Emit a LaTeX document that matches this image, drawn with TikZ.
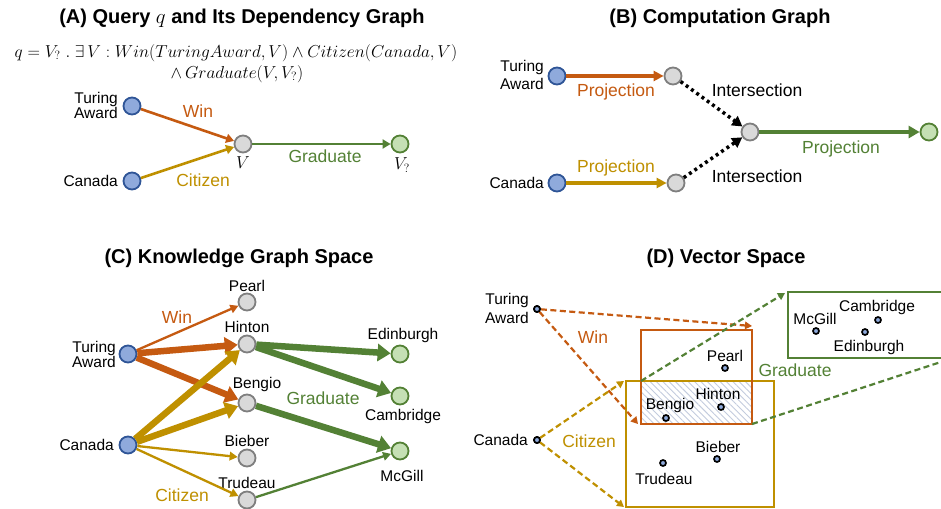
\documentclass[tikz,border=0pt]{standalone}
\usepackage{fontspec}
\setmainfont{Liberation Sans}
\usetikzlibrary{arrows.meta,patterns.meta}
\definecolor{corange}{HTML}{C55A11}
\definecolor{cgold}{HTML}{BF9000}
\definecolor{cgreen}{HTML}{538135}
\definecolor{cbluef}{HTML}{8FAADC}
\definecolor{cblued}{HTML}{2F5597}
\definecolor{cgrayf}{HTML}{D9D9D9}
\definecolor{cgrayd}{HTML}{7F7F7F}
\definecolor{cgreenf}{HTML}{C5E0B4}
\definecolor{chatch}{HTML}{C3CCDE}
\tikzset{
  ent/.style={circle,draw=cblued,fill=cbluef,line width=1.8pt,minimum size=17pt,inner sep=0pt},
  var/.style={circle,draw=cgrayd,fill=cgrayf,line width=1.8pt,minimum size=17pt,inner sep=0pt},
  ansn/.style={circle,draw=cgreen,fill=cgreenf,line width=1.8pt,minimum size=17pt,inner sep=0pt},
  vpt/.style={circle,draw=black,fill=cbluef,line width=1.7pt,minimum size=6pt,inner sep=0pt},
  lbl/.style={inner sep=0pt,font=\fontsize{15.5}{15}\selectfont},
  elbl/.style={inner sep=0pt,font=\fontsize{17.5}{19}\selectfont},
  ttl/.style={inner sep=0pt,font=\fontsize{20}{22}\selectfont\bfseries},
  thinA/.style={line width=2.6pt,-{Triangle[length=8pt,width=9pt]}},
  medB/.style={line width=3.2pt,-{Triangle[length=10pt,width=10pt]}},
  dotB/.style={line width=3.5pt,dash pattern=on 3pt off 3.5pt,-{Triangle[length=10pt,width=11pt]}},
  thickC/.style={line width=6.5pt,-{Triangle[length=13pt,width=17pt]}},
  thinC/.style={line width=2.3pt,-{Triangle[length=8pt,width=8.5pt]}},
  dashD/.style={line width=2.2pt,dash pattern=on 6pt off 3.5pt,-{Triangle[length=7pt,width=7.5pt]}},
  boxD/.style={line width=2.3pt},
}
\begin{document}
\begin{tikzpicture}[x=1pt,y=-1pt]
\clip (0,0) rectangle (941,508);
\fill[white] (0,0) rectangle (941,508);

% ---------------- Panel A ----------------
\node[ttl] (a-title) at (242,18) {(A) Query $q$ and Its Dependency Graph};
\node[inner sep=0pt,font=\fontsize{17}{18}\selectfont] (a-f1) at (236,53) {$q = V_?\ .\ \exists\, V : Win(TuringAward, V) \wedge Citizen(Canada, V)$};
\node[inner sep=0pt,font=\fontsize{17}{18}\selectfont] (a-f2) at (237,74) {$\wedge\, Graduate(V, V_?)$};
\node[ent] (a-ta) at (132,106) {};
\node[ent] (a-ca) at (132,181) {};
\node[var] (a-v) at (243,144) {};
\node[ansn] (a-ans) at (400,144) {};
\node[lbl,anchor=east,align=right] (a-tal) at (118,105) {Turing\\Award};
\node[lbl,anchor=east] (a-cal) at (118,181) {Canada};
\node[inner sep=0pt,font=\fontsize{18}{18}\selectfont] (a-vl) at (243,163) {$V$};
\node[inner sep=0pt,font=\fontsize{18}{18}\selectfont] (a-ansl) at (402,165) {$V_?$};
\draw[thinA,corange] (a-ta) -- (a-v);
\draw[thinA,cgold] (a-ca) -- (a-v);
\draw[thinA,cgreen] (a-v) -- (a-ans);
\node[elbl,text=corange] (a-win) at (198,111) {Win};
\node[elbl,text=cgold] (a-cit) at (203,180) {Citizen};
\node[elbl,text=cgreen] (a-grad) at (325,156) {Graduate};

% ---------------- Panel B ----------------
\node[ttl] (b-title) at (720,18) {(B) Computation Graph};
\node[ent] (b-ta) at (557,76) {};
\node[ent] (b-ca) at (557,183) {};
\node[var] (b-p1) at (673,76) {};
\node[var] (b-p2) at (676,183) {};
\node[var] (b-i) at (750,132) {};
\node[ansn] (b-ans) at (929,132) {};
\node[lbl,anchor=east,align=right,font=\fontsize{15.5}{18}\selectfont] (b-tal) at (544,75) {Turing\\Award};
\node[lbl,anchor=east] (b-cal) at (544,183) {Canada};
\draw[medB,corange] (b-ta) -- (b-p1);
\draw[medB,cgold] (b-ca) -- (b-p2);
\draw[dotB,black] (b-p1) -- (b-i);
\draw[dotB,black] (b-p2) -- (b-i);
\draw[line width=3.6pt,-{Triangle[length=11pt,width=12pt]},cgreen] (b-i) -- (b-ans);
\node[elbl,text=corange] (b-pr1) at (616,92) {Projection};
\node[elbl,text=cgold] (b-pr2) at (616,168) {Projection};
\node[elbl,text=cgreen] (b-pr3) at (841,149) {Projection};
\node[elbl] (b-in1) at (757,90) {Intersection};
\node[elbl] (b-in2) at (757,176) {Intersection};

% ---------------- Panel C ----------------
\node[ttl] (c-title) at (239,258) {(C) Knowledge Graph Space};
\node[ent] (c-ta) at (128,354) {};
\node[ent] (c-ca) at (128,445) {};
\node[var] (c-pearl) at (247,302) {};
\node[var] (c-hinton) at (247,344) {};
\node[var] (c-bengio) at (247,403) {};
\node[var] (c-bieber) at (247,458) {};
\node[var] (c-trudeau) at (247,500) {};
\node[ansn] (c-edin) at (400,354) {};
\node[ansn] (c-camb) at (400,396) {};
\node[ansn] (c-mcgill) at (400,451) {};
\node[lbl,anchor=east,align=right] (c-tal) at (116,354) {Turing\\Award};
\node[lbl,anchor=east] (c-cal) at (114,445) {Canada};
\node[lbl] (c-pearll) at (247,286) {Pearl};
\node[lbl] (c-hintonl) at (247,327) {Hinton};
\node[lbl] (c-bengiol) at (257,384) {Bengio};
\node[lbl] (c-bieberl) at (247,441) {Bieber};
\node[lbl] (c-trudeaul) at (247,483) {Trudeau};
\node[lbl] (c-edinl) at (403,335) {Edinburgh};
\node[lbl] (c-cambl) at (403,416) {Cambridge};
\node[lbl] (c-mcgilll) at (402,476) {McGill};
\draw[thinC,corange] (c-ta) -- (c-pearl);
\draw[thickC,corange] (c-ta) -- (c-hinton);
\draw[thickC,corange] (c-ta) -- (c-bengio);
\draw[thickC,cgold] (c-ca) -- (c-hinton);
\draw[thickC,cgold] (c-ca) -- (c-bengio);
\draw[thinC,cgold] (c-ca) -- (c-bieber);
\draw[thinC,cgold] (c-ca) -- (c-trudeau);
\draw[thickC,cgreen] (c-hinton) -- (c-edin);
\draw[thickC,cgreen] (c-hinton) -- (c-camb);
\draw[thickC,cgreen] (c-bengio) -- (c-mcgill);
\draw[thinC,cgreen] (c-trudeau) -- (c-mcgill);
\node[elbl,text=corange] (c-win) at (177,317) {Win};
\node[elbl,text=cgreen] (c-grad) at (323,398) {Graduate};
\node[elbl,text=cgold] (c-cit) at (182,495) {Citizen};

% ---------------- Panel D ----------------
\node[ttl] (d-title) at (726,258) {(D) Vector Space};
\fill[pattern={Lines[angle=-45,distance=4.5pt,line width=0.9pt]},pattern color=chatch] (641,381) rectangle (752,424);
\draw[boxD,cgold] (626,381) rectangle (774,507);
\draw[boxD,corange] (641,330) rectangle (752,424);
\draw[boxD,cgreen] (788,292) rectangle (953,358);
\coordinate (d-ob-tr) at (752,326);
\coordinate (d-ob-bl) at (638,424);
\coordinate (d-yb-tl) at (624,381);
\coordinate (d-yb-bl) at (624,507);
\coordinate (d-hb-tl) at (641,381);
\coordinate (d-hb-br) at (752,424);
\coordinate (d-gb-tl) at (785,293);
\coordinate (d-gb-br) at (953,358);
\node[vpt] (d-ta) at (537,309) {};
\node[vpt] (d-ca) at (537,440) {};
\draw[dashD,corange] (d-ta) -- (d-ob-tr);
\draw[dashD,corange] (d-ta) -- (d-ob-bl);
\draw[dashD,cgold] (d-ca) -- (d-yb-tl);
\draw[dashD,cgold] (d-ca) -- (d-yb-bl);
\draw[dashD,cgreen] (d-hb-tl) -- (d-gb-tl);
\draw[dashD,cgreen] (d-hb-br) -- (d-gb-br);
\node[vpt] at (537,309) {};
\node[vpt] at (537,440) {};
\node[lbl,anchor=east,align=right,font=\fontsize{15.5}{19}\selectfont] (d-tal) at (529,308) {Turing\\Award};
\node[lbl,anchor=east] (d-cal) at (528,440) {Canada};
\node[vpt] (d-pearl) at (725,368) {};
\node[vpt] (d-hinton) at (721,407) {};
\node[vpt] (d-bengio) at (666,418) {};
\node[vpt] (d-bieber) at (717,459) {};
\node[vpt] (d-trudeau) at (663,463) {};
\node[vpt] (d-mcgill) at (816,331) {};
\node[vpt] (d-camb) at (878,320) {};
\node[vpt] (d-edin) at (865,332) {};
\node[lbl] (d-pearll) at (725,356) {Pearl};
\node[lbl] (d-hintonl) at (718,394) {Hinton};
\node[lbl] (d-bengiol) at (670,405) {Bengio};
\node[lbl] (d-bieberl) at (718,447) {Bieber};
\node[lbl] (d-trudeaul) at (664,479) {Trudeau};
\node[lbl] (d-mcgilll) at (815,319) {McGill};
\node[lbl] (d-cambl) at (877,307) {Cambridge};
\node[lbl] (d-edinl) at (869,347) {Edinburgh};
\node[elbl,text=corange] (d-win) at (593,337) {Win};
\node[elbl,text=cgold] (d-cit) at (589,441) {Citizen};
\node[elbl,text=cgreen] (d-grad) at (795,370) {Graduate};
\end{tikzpicture}
\end{document}
